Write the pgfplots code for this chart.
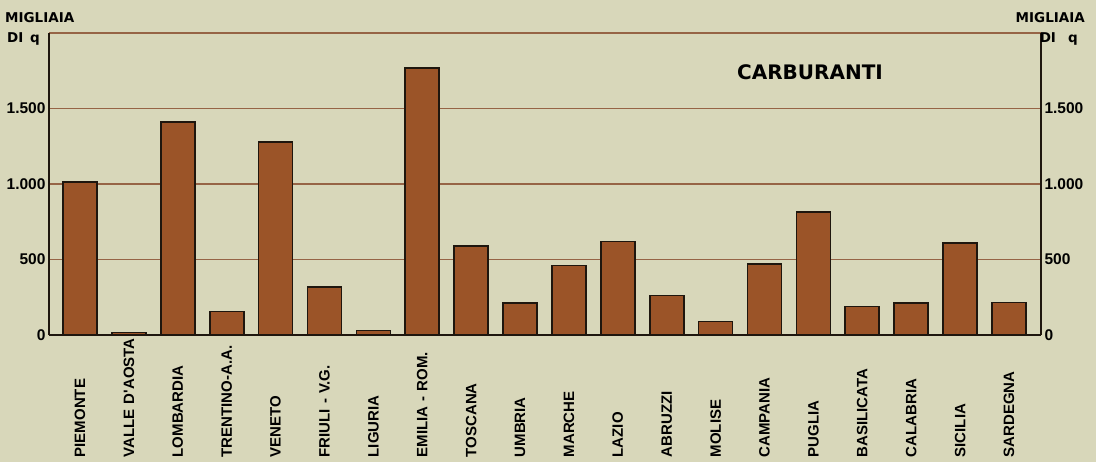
\documentclass[border=0pt]{standalone}
\usepackage{fontspec}
\setmainfont{DejaVu Sans}
\newfontfamily\libsans{Liberation Sans}
\usepackage{pgfplots}
\pgfplotsset{compat=1.18}
\definecolor{bg}{RGB}{216,215,186}
\definecolor{barc}{RGB}{155,84,40}
\definecolor{gridc}{RGB}{150,100,70}
\definecolor{edge}{RGB}{30,22,14}
\pgfplotstableread{
x y
0 1013
1 17
2 1410
3 156
4 1278
5 318
6 30
7 1768
8 591
9 212
10 461
11 620
12 262
13 90
14 472
15 815
16 189
17 212
18 609
19 216
}\datatable
\begin{document}
\begin{tikzpicture}
\useasboundingbox (0,0) rectangle (1096bp,462bp);
\fill[bg] (0,0) rectangle (1096bp,462bp);
\begin{axis}[
  at={(49bp,127bp)}, anchor=south west,
  scale only axis, width=992bp, height=302bp,
  xmin=-0.634, xmax=19.655, ymin=0, ymax=2000,
  ybar, bar width=34bp,
  separate axis lines,
  x axis line style={draw=none},
  y axis line style={edge, line width=1.4bp},
  major tick length=0pt,
  xtick=data,
  xticklabels={PIEMONTE,{\mbox{VALLE D'AOSTA}},LOMBARDIA,TRENTINO-A.A.,VENETO,{\mbox{FRIULI - V.G.}},LIGURIA,{\mbox{EMILIA - ROM.}},TOSCANA,UMBRIA,MARCHE,LAZIO,ABRUZZI,MOLISE,CAMPANIA,PUGLIA,BASILICATA,CALABRIA,SICILIA,SARDEGNA},
  xticklabel style={rotate=90, anchor=east, inner sep=0pt, text width=122bp, align=left,
    font=\libsans\bfseries\fontsize{15bp}{18bp}\selectfont},
  ytick={500,1000,1500,2000},
  yticklabels={500,{1.000},{1.500},{}},
  extra y ticks={0},
  extra y tick labels={0},
  extra y tick style={grid style={edge, line width=1.5bp}},
  ymajorgrids,
  grid style={gridc, line width=1.1bp},
  yticklabel style={font=\libsans\bfseries\fontsize{15.5bp}{18bp}\selectfont},
  /pgf/number format/assume math mode=true,
]
\addplot[fill=barc, draw=edge, line width=1.7bp] table[x=x,y=y] {\datatable};
\end{axis}
\begin{axis}[
  at={(49bp,127bp)}, anchor=south west,
  scale only axis, width=992bp, height=302bp,
  xmin=-0.634, xmax=19.655, ymin=0, ymax=2000,
  axis line style={draw=none},
  major tick length=0pt,
  xtick=\empty,
  ytick={0,500,1000,1500},
  yticklabels={0,500,{1.000},{1.500}},
  yticklabel pos=right,
  yticklabel style={font=\libsans\bfseries\fontsize{15.5bp}{18bp}\selectfont},
  /pgf/number format/assume math mode=true,
]
\end{axis}
\begin{scope}[font=\bfseries\fontsize{13.5bp}{16bp}\selectfont]
\node[anchor=base west, inner sep=0pt] at (5bp,439bp) {MIGLIAIA};
\node[anchor=base west, inner sep=0pt] at (7bp,419bp) {DI\hspace{0.5em}q};
\node[anchor=base east, inner sep=0pt] at (1085bp,439bp) {MIGLIAIA};
\node[anchor=base east, inner sep=0pt] at (1078bp,419bp) {DI\hspace{0.9em}q};
\end{scope}
\node[font=\bfseries\fontsize{20bp}{24bp}\selectfont] at (810bp,390bp) {CARBURANTI};
\end{tikzpicture}
\end{document}
